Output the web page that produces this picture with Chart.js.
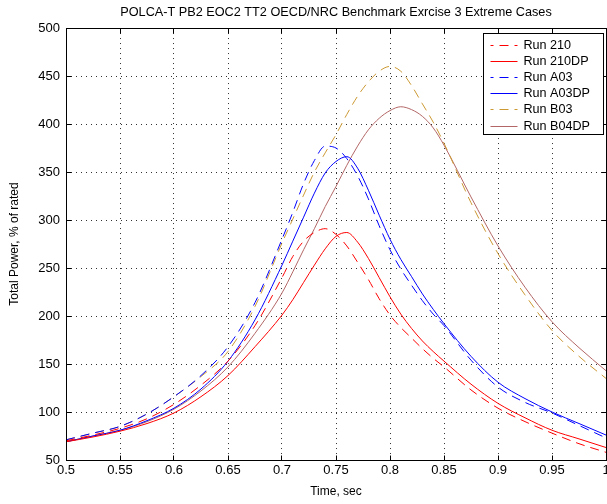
<!DOCTYPE html>
<html>
<head>
<meta charset="utf-8">
<title>POLCA-T Extreme Cases</title>
<script src="https://cdn.jsdelivr.net/npm/chart.js@4.4.0/dist/chart.umd.min.js"></script>
<style>
  html, body { margin: 0; padding: 0; background: #fff; }
  #wrap { width: 607px; height: 504px; overflow: hidden; }
</style>
</head>
<body>
<div id="wrap"><canvas id="powerChart" width="607" height="504"></canvas></div>
<script>
// Time points (sec), shared by every run
const times = [0.5, 0.525, 0.55, 0.575, 0.6, 0.625, 0.65, 0.675, 0.7, 0.71,
  0.72, 0.73, 0.74, 0.75, 0.76, 0.77, 0.78, 0.79, 0.8, 0.81,
  0.82, 0.83, 0.84, 0.85, 0.875, 0.9, 0.925, 0.95, 0.975, 1.0];

// Total power, % of rated
const run210 = [70, 76, 83, 93, 108, 128, 153, 190, 240, 262,
  278, 287, 291, 285, 273, 256, 238, 218, 201, 188,
  177, 166, 156, 147, 123, 104, 90, 78, 67, 58];
const run210DP = [69, 74, 80, 88, 99, 116, 138, 168, 201, 217,
  235, 253, 270, 283, 287, 277, 260, 240, 220, 202,
  187, 174, 163, 153, 129, 109, 94, 81, 72, 63];
const runA03 = [71, 78, 85, 98, 116, 138, 168, 214, 280, 308,
  338, 362, 377, 375, 364, 346, 322, 294, 269, 249,
  232, 216, 202, 190, 154, 126, 110, 99, 86, 73];
const runA03DP = [69, 75, 81, 91, 104, 124, 153, 196, 253, 278,
  303, 328, 349, 361, 366, 354, 331, 305, 280, 259,
  241, 223, 207, 192, 158, 131, 114, 100, 88, 76];
const runB03 = [71, 78, 85, 98, 116, 137, 163, 210, 276, 301,
  326, 350, 370, 389, 410, 429, 444, 455, 460, 455,
  440, 421, 402, 380, 318, 265, 222, 185, 158, 135];
const runB04DP = [69, 75, 81, 90, 103, 122, 147, 182, 224, 246,
  269, 291, 314, 335, 357, 377, 394, 406, 414, 418,
  415, 408, 396, 378, 324, 273, 230, 194, 167, 143];

const xTicks = [0.5, 0.55, 0.6, 0.65, 0.7, 0.75, 0.8, 0.85, 0.9, 0.95, 1.0];
const xTickLabels = ["0.5", "0.55", "0.6", "0.65", "0.7", "0.75", "0.8", "0.85", "0.9", "0.95", "1"];
const yTicks = [50, 100, 150, 200, 250, 300, 350, 400, 450, 500];

const FONT = "'Liberation Sans', Arial, sans-serif";
const DASH = [9, 6];

// Series styles
const series = [
  { label: "Run 210", values: run210, color: "rgb(255,0,0)", dash: DASH },
  { label: "Run 210DP", values: run210DP, color: "rgb(255,0,0)", dash: [] },
  { label: "Run A03", values: runA03, color: "rgb(0,0,255)", dash: DASH },
  { label: "Run A03DP", values: runA03DP, color: "rgb(0,0,255)", dash: [] },
  { label: "Run B03", values: runB03, color: "rgb(204,153,51)", dash: DASH },
  { label: "Run B04DP", values: runB04DP, color: "rgb(179,102,102)", dash: [] }
];

const align = p => Math.round(p - 0.5) + 0.5;

// Box frame, inward ticks and the boxed legend (MATLAB style)
const framePlugin = {
  id: "frame",
  afterDraw(chart) {
    const { ctx, chartArea: a, scales: { x, y } } = chart;
    const l = align(a.left), r = align(a.right), t = align(a.top), b = align(a.bottom);
    ctx.save();
    ctx.strokeStyle = "#000";
    ctx.lineWidth = 1;
    ctx.setLineDash([]);
    ctx.strokeRect(l, t, r - l, b - t);

    ctx.beginPath();
    x.ticks.forEach(tk => {
      const px = align(x.getPixelForValue(tk.value));
      ctx.moveTo(px, b); ctx.lineTo(px, b - 5);
      ctx.moveTo(px, t); ctx.lineTo(px, t + 5);
    });
    y.ticks.forEach(tk => {
      const py = align(y.getPixelForValue(tk.value));
      ctx.moveTo(l, py); ctx.lineTo(l + 5, py);
      ctx.moveTo(r, py); ctx.lineTo(r - 5, py);
    });
    ctx.stroke();

    // legend box
    const bx = align(a.right - 123), by = align(a.top + 5), bw = 120, bh = 101;
    ctx.fillStyle = "#fff";
    ctx.fillRect(bx, by, bw, bh);
    ctx.strokeStyle = "#000";
    ctx.strokeRect(bx, by, bw, bh);
    ctx.font = "12.6px " + FONT;
    ctx.textBaseline = "middle";
    ctx.textAlign = "left";
    series.forEach((s, i) => {
      const cy = Math.round(by + 11 + i * 16.2) + 0.5;
      ctx.strokeStyle = s.color;
      ctx.lineWidth = 1;
      ctx.setLineDash(s.dash);
      ctx.lineDashOffset = s.dash.length ? 6 : 0;
      ctx.beginPath();
      ctx.moveTo(bx + 7, cy);
      ctx.lineTo(bx + 34, cy);
      ctx.stroke();
      ctx.fillStyle = "#000";
      ctx.fillText(s.label, bx + 40, cy);
    });
    ctx.restore();
  }
};

const datasets = series.map(s => ({
  label: s.label,
  data: times.map((t, i) => ({ x: t, y: s.values[i] })),
  borderColor: s.color,
  backgroundColor: s.color,
  borderDash: s.dash,
  borderWidth: 1,
  pointRadius: 0,
  fill: false,
  cubicInterpolationMode: "monotone"
}));

new Chart(document.getElementById("powerChart"), {
  type: "line",
  data: { datasets: datasets },
  options: {
    responsive: false,
    animation: false,
    devicePixelRatio: 1,
    layout: { padding: { left: 0, right: 1, top: 0, bottom: 0 } },
    plugins: {
      legend: { display: false },
      tooltip: { enabled: false },
      title: {
        display: true,
        fullSize: false,
        text: "POLCA-T PB2 EOC2 TT2 OECD/NRC Benchmark Exrcise 3 Extreme Cases",
        color: "#000",
        font: { family: FONT, size: 12.7, weight: "normal" },
        padding: { top: 4.4, bottom: 8.4 }
      }
    },
    scales: {
      x: {
        type: "linear",
        min: 0.5,
        max: 1.0,
        afterBuildTicks: s => { s.ticks = xTicks.map(v => ({ value: v })); },
        afterFit: s => { s.height = 44; s.paddingLeft = 0; s.paddingRight = 0; },
        ticks: {
          autoSkip: false,
          maxRotation: 0,
          padding: 3,
          color: "#000",
          font: { family: FONT, size: 13 },
          callback: (v, i) => xTickLabels[i]
        },
        grid: { color: "#333", lineWidth: 1, drawTicks: false },
        border: { display: false, dash: [1, 4] },
        title: {
          display: true,
          text: "Time, sec",
          color: "#000",
          font: { family: FONT, size: 12 },
          padding: { top: 0, bottom: 4.8 }
        }
      },
      y: {
        type: "linear",
        min: 50,
        max: 500,
        afterBuildTicks: s => { s.ticks = yTicks.map(v => ({ value: v })); },
        afterFit: s => { s.width = 66; s.paddingTop = 0; s.paddingBottom = 0; },
        ticks: {
          padding: 6,
          color: "#000",
          font: { family: FONT, size: 13 },
          callback: v => String(v)
        },
        grid: { color: "#333", lineWidth: 1, drawTicks: false },
        border: { display: false, dash: [1, 4] },
        title: {
          display: true,
          text: "Total Power, % of rated",
          color: "#000",
          font: { family: FONT, size: 12 },
          padding: { top: 7.8, bottom: 0 }
        }
      }
    }
  },
  plugins: [framePlugin]
});
</script>
</body>
</html>
